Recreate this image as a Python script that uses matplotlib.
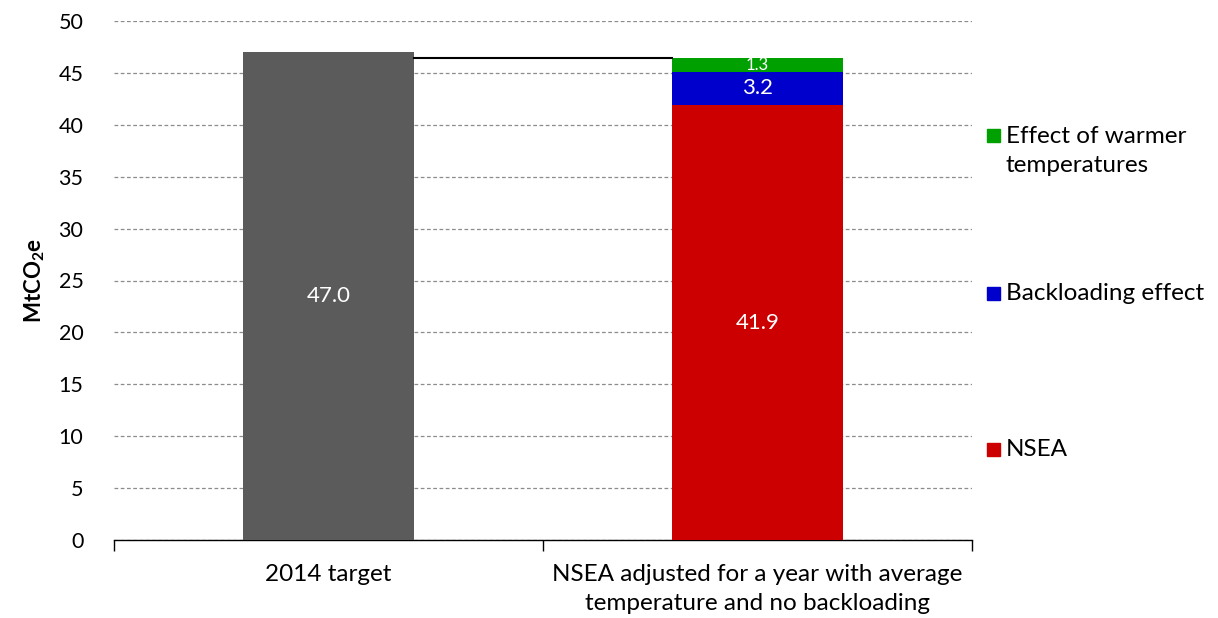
import matplotlib
matplotlib.use("Agg")
import matplotlib.pyplot as plt
from matplotlib.patches import Rectangle

plt.rcParams['font.family'] = ['Lato', 'DejaVu Sans']
plt.rcParams['mathtext.fontset'] = 'custom'
plt.rcParams['mathtext.rm'] = 'Lato'
plt.rcParams['mathtext.bf'] = 'Lato:bold'

categories = ["2014 target", "NSEA adjusted for a year with average\ntemperature and no backloading"]
target = [47.0, 0]
nsea = [0, 41.9]
backloading = [0, 3.2]
warmer = [0, 1.3]
series_names = ["NSEA", "Backloading effect", "Effect of warmer\ntemperatures"]
colors = {"target": "#5b5b5b", "NSEA": "#cc0000", "Backloading effect": "#0000cc",
          "Effect of warmer\ntemperatures": "#00a000"}

fig = plt.figure(figsize=(12.18, 6.18), dpi=100)
ax = fig.add_axes([114/1218, 78/618, (972-114)/1218, (540-21)/618])

x = [0, 1]
w = 0.4
ax.bar(x[0], target[0], width=w, color=colors["target"], zorder=3)
ax.bar(x[1], nsea[1], width=w, color=colors["NSEA"], zorder=3)
ax.bar(x[1], backloading[1], bottom=nsea[1], width=w, color=colors["Backloading effect"], zorder=3)
ax.bar(x[1], warmer[1], bottom=nsea[1] + backloading[1], width=w,
       color=colors["Effect of warmer\ntemperatures"], zorder=3)

total = nsea[1] + backloading[1] + warmer[1]
ax.plot([x[0] + w/2, x[1] - w/2], [total, total], color="black", lw=1.5, zorder=4)

# value labels
ax.text(x[0], target[0]/2, f"{target[0]:.1f}", color="white", ha="center", va="center", fontsize=16, zorder=5)
ax.text(x[1], nsea[1]/2, f"{nsea[1]:.1f}", color="white", ha="center", va="center", fontsize=16, zorder=5)
ax.text(x[1], nsea[1] + backloading[1]/2, f"{backloading[1]:.1f}", color="white", ha="center", va="center", fontsize=16, zorder=5)
ax.text(x[1], nsea[1] + backloading[1] + warmer[1]/2, f"{warmer[1]:.1f}", color="white", ha="center", va="center", fontsize=12, zorder=5)

ax.set_ylim(0, 50)
ax.set_xlim(-0.5, 1.5)
ax.set_yticks(range(0, 51, 5))
ax.tick_params(axis="y", length=0, labelsize=15.5, pad=22)
ax.yaxis.grid(True, linestyle=(0, (3, 2)), color="#8c8c8c", lw=0.9, zorder=0)

ax.set_xticks([-0.5, 0.5, 1.5])
ax.set_xticklabels([])
ax.set_xticks(x, minor=True)
ax.set_xticklabels(categories, minor=True, fontsize=17.5, linespacing=1.5)
ax.tick_params(axis="x", which="major", length=8, direction="out", width=1)
ax.tick_params(axis="x", which="minor", length=0, pad=17)

for s in ["top", "right", "left"]:
    ax.spines[s].set_visible(False)
ax.spines["bottom"].set_linewidth(1)

ax.set_ylabel(r"MtCO$_\mathbf{2}$e", fontsize=16, fontweight="bold", labelpad=8)

# legend (manual)
leg_y = [449, 293, 135]
for name, yp in zip(series_names, leg_y):
    fig.add_artist(Rectangle((987/1218, (618 - yp - 7)/618), 13/1218, 13/618,
                             transform=fig.transFigure, color=colors[name]))
    if "\n" in name:
        fig.text(1006/1218, (618 - yp + 9)/618, name, fontsize=17.5, va="top",
                 ha="left", linespacing=1.5)
    else:
        fig.text(1006/1218, (618 - yp)/618, name, fontsize=17.5, va="center", ha="left")

fig.savefig("out.png", dpi=100)
